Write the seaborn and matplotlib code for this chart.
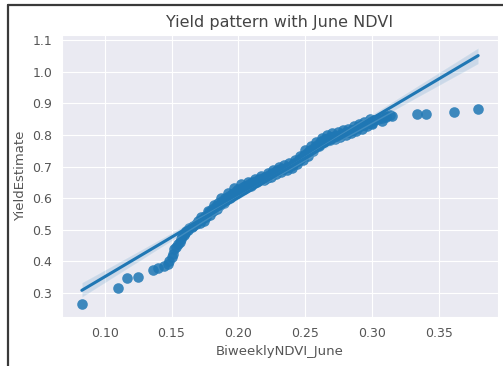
import numpy as np
import pandas as pd
import matplotlib
matplotlib.use("Agg")
import matplotlib.pyplot as plt
import seaborn as sns
from matplotlib.lines import Line2D

# values
ndvi_june = [
    0.083, 0.110, 0.117, 0.125, 0.136, 0.140, 0.144, 0.147, 0.148, 0.150,
    0.151, 0.152, 0.153, 0.155, 0.156, 0.157, 0.158, 0.159, 0.160, 0.161,
    0.162, 0.163, 0.165,
    0.166, 0.168, 0.170, 0.171, 0.173, 0.175, 0.176, 0.178, 0.180, 0.181,
    0.183, 0.185, 0.186, 0.188, 0.190, 0.191, 0.193, 0.195, 0.196, 0.198,
    0.200, 0.201, 0.203, 0.205, 0.206, 0.208, 0.210, 0.211, 0.213, 0.215,
    0.216, 0.218, 0.220, 0.221, 0.223, 0.225, 0.227, 0.229, 0.231, 0.233,
    0.235, 0.237, 0.239, 0.241, 0.243, 0.245, 0.247, 0.249, 0.251, 0.253,
    0.255, 0.257, 0.259, 0.261, 0.263, 0.265, 0.267, 0.269, 0.271, 0.273,
    0.275, 0.277, 0.279, 0.281, 0.283, 0.285, 0.287, 0.289, 0.291, 0.293,
    0.295, 0.297, 0.299, 0.301, 0.304, 0.307, 0.310,
    0.172, 0.174, 0.177, 0.179, 0.182, 0.184, 0.187, 0.189, 0.192, 0.194,
    0.197, 0.199, 0.202, 0.204, 0.207, 0.209, 0.212, 0.214, 0.217, 0.219,
    0.222, 0.224, 0.226, 0.228, 0.230, 0.232, 0.234, 0.236, 0.238, 0.240,
    0.242, 0.244, 0.246, 0.248, 0.250, 0.252, 0.254, 0.256, 0.258, 0.260,
    0.262, 0.264, 0.266, 0.268, 0.270, 0.272, 0.274, 0.276, 0.278, 0.280,
    0.282, 0.284, 0.286, 0.288, 0.290, 0.292, 0.294, 0.296, 0.298, 0.300,
    0.291, 0.300, 0.307, 0.3105, 0.313, 0.315, 0.333, 0.340, 0.361, 0.379,
]
yield_estimate = [
    0.265, 0.315, 0.347, 0.352, 0.373, 0.381, 0.386, 0.392, 0.400, 0.415,
    0.425, 0.440, 0.447, 0.455, 0.462, 0.470, 0.480, 0.485, 0.490, 0.497,
    0.500, 0.505, 0.510,
    0.512, 0.520, 0.527, 0.522, 0.535, 0.545, 0.540, 0.556, 0.566, 0.560,
    0.575, 0.584, 0.579, 0.592, 0.600, 0.596, 0.607, 0.615, 0.611, 0.622,
    0.629, 0.625, 0.635, 0.640, 0.637, 0.646, 0.650, 0.647, 0.655, 0.660,
    0.657, 0.664, 0.668, 0.665, 0.674, 0.680, 0.684, 0.689, 0.691, 0.693,
    0.696, 0.700, 0.703, 0.708, 0.714, 0.721, 0.728, 0.736, 0.742, 0.749,
    0.755, 0.762, 0.770, 0.777, 0.784, 0.789, 0.791, 0.794, 0.796, 0.798,
    0.800, 0.803, 0.807, 0.810, 0.813, 0.816, 0.820, 0.824, 0.828, 0.832,
    0.836, 0.840, 0.845, 0.849, 0.852, 0.855, 0.858,
    0.540, 0.528, 0.560, 0.548, 0.580, 0.566, 0.600, 0.585, 0.618, 0.602,
    0.634, 0.616, 0.645, 0.630, 0.652, 0.640, 0.662, 0.650, 0.670, 0.657,
    0.680, 0.668, 0.690, 0.678, 0.700, 0.684, 0.705, 0.688, 0.712, 0.696,
    0.720, 0.707, 0.735, 0.720, 0.752, 0.735, 0.765, 0.748, 0.778, 0.765,
    0.790, 0.778, 0.800, 0.784, 0.805, 0.788, 0.810, 0.795, 0.815, 0.800,
    0.820, 0.806, 0.828, 0.814, 0.835, 0.820, 0.842, 0.828, 0.850, 0.834,
    0.828, 0.838, 0.843, 0.860, 0.863, 0.860, 0.865, 0.868, 0.873, 0.883,
]

x_ticks = [0.10, 0.15, 0.20, 0.25, 0.30, 0.35]
y_ticks = [0.3, 0.4, 0.5, 0.6, 0.7, 0.8, 0.9, 1.0, 1.1]

df = pd.DataFrame({"BiweeklyNDVI_June": ndvi_june, "YieldEstimate": yield_estimate})

sns.set_style("darkgrid")
plt.rcParams["font.family"] = ["DejaVu Sans"]

fig = plt.figure(figsize=(5.03, 3.66), dpi=100)
ax = fig.add_axes([62 / 503, 1 - 317 / 366, (498 - 62) / 503, (317 - 35) / 366])

sns.regplot(data=df, x="BiweeklyNDVI_June", y="YieldEstimate", ax=ax,
            color="#1f77b4", seed=0,
            scatter_kws={"s": 58, "alpha": 0.85, "linewidths": 0},
            line_kws={"lw": 2.2})

ax.set_xticks(x_ticks)
ax.set_yticks(y_ticks)
ax.set_xticklabels([f"{v:.2f}" for v in x_ticks])
ax.set_yticklabels([f"{v:.1f}" for v in y_ticks])
ax.tick_params(labelsize=9, colors="#555555")
ax.set_xlabel("BiweeklyNDVI_June", fontsize=9.5, color="#555555")
ax.set_ylabel("YieldEstimate", fontsize=9.5, color="#555555")
ax.set_title("Yield pattern with June NDVI", fontsize=11.5, color="#444444")

# screenshot frame
fig.add_artist(Line2D([8 / 503, 8 / 503], [0, 1 - 5 / 366], transform=fig.transFigure,
                      color="#3a3a3a", lw=1.6))
fig.add_artist(Line2D([8 / 503, 1], [1 - 5 / 366, 1 - 5 / 366], transform=fig.transFigure,
                      color="#3a3a3a", lw=1.6))

fig.savefig("out.png", dpi=100)
